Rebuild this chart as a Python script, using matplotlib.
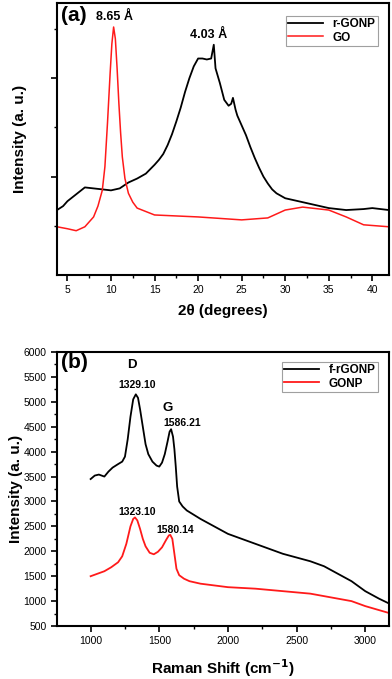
import numpy as np
import matplotlib
matplotlib.use("Agg")
import matplotlib.pyplot as plt
from matplotlib.ticker import MultipleLocator, FixedLocator

plt.rcParams['font.family'] = ['Liberation Sans', 'DejaVu Sans']

# (a) XRD, arbitrary intensity units
xrd_2theta_r = [3.8, 4.5, 5.0, 6.0, 7.0, 8.0, 9.0, 10.0, 11.0, 12.0, 13.0, 14.0, 15.0,
                15.5, 16.0, 16.5, 17.0, 17.5, 18.0, 18.5, 19.0, 19.5, 20.0, 20.5, 21.0,
                21.5, 21.8, 22.0, 22.5, 23.0, 23.5, 23.8, 24.0, 24.3, 24.5, 25.0, 25.5,
                26.0, 26.5, 27.0, 27.5, 28.0, 28.5, 29.0, 30.0, 31.0, 32.0, 33.0, 35.0,
                37.0, 39.0, 40.0, 41.9]
xrd_r_gonp = [0.66, 0.70, 0.75, 0.82, 0.89, 0.88, 0.87, 0.86, 0.88, 0.94, 0.98, 1.03, 1.12,
              1.17, 1.23, 1.32, 1.43, 1.56, 1.70, 1.86, 2.00, 2.12, 2.20, 2.20, 2.19,
              2.20, 2.34, 2.10, 1.95, 1.78, 1.72, 1.74, 1.80, 1.68, 1.62, 1.52, 1.42,
              1.30, 1.19, 1.09, 1.00, 0.93, 0.87, 0.83, 0.78, 0.76, 0.74, 0.72, 0.68,
              0.66, 0.67, 0.68, 0.66]
xrd_2theta_go = [3.8, 5.0, 6.0, 7.0, 8.0, 8.5, 9.0, 9.3, 9.6, 9.9, 10.1, 10.3, 10.5,
                 10.7, 10.9, 11.1, 11.3, 11.6, 12.0, 12.5, 13.0, 15.0, 20.0, 25.0,
                 28.0, 30.0, 32.0, 35.0, 37.0, 39.0, 41.9]
xrd_go = [0.49, 0.47, 0.45, 0.49, 0.59, 0.70, 0.86, 1.10, 1.55, 2.05, 2.35, 2.52, 2.40,
          2.10, 1.75, 1.45, 1.20, 0.98, 0.83, 0.74, 0.68, 0.61, 0.59, 0.56,
          0.58, 0.66, 0.69, 0.66, 0.59, 0.51, 0.49]

# (b) Raman
raman_x_f = [1000, 1030, 1060, 1100, 1130, 1160, 1200, 1230, 1250, 1270, 1290, 1310, 1329,
             1345, 1360, 1380, 1400, 1420, 1450, 1480, 1500, 1520, 1540, 1560, 1575,
             1586, 1600, 1610, 1620, 1630, 1645, 1670, 1700, 1800, 1900, 2000, 2200,
             2400, 2600, 2700, 2800, 2900, 3000, 3100, 3175]
raman_f_rgonp = [3450, 3520, 3540, 3500, 3600, 3680, 3750, 3800, 3900, 4250, 4700, 5050, 5150,
                 5080, 4850, 4500, 4150, 3950, 3800, 3720, 3700, 3780, 3950, 4200, 4400,
                 4450, 4300, 4050, 3700, 3300, 3000, 2900, 2820, 2650, 2500, 2350, 2150,
                 1950, 1800, 1700, 1550, 1400, 1200, 1050, 950]
raman_x_g = [1000, 1050, 1100, 1150, 1200, 1230, 1260, 1290, 1310, 1323, 1340, 1360, 1380,
             1400, 1430, 1460, 1490, 1520, 1550, 1570, 1580, 1595, 1610, 1625, 1645,
             1680, 1720, 1800, 2000, 2200, 2400, 2600, 2700, 2800, 2900, 3000, 3100, 3175]
raman_gonp = [1500, 1550, 1600, 1680, 1780, 1900, 2150, 2500, 2650, 2680, 2620, 2450, 2250,
              2100, 1970, 1940, 1990, 2080, 2230, 2320, 2330, 2250, 1950, 1650, 1520,
              1450, 1400, 1350, 1280, 1250, 1200, 1150, 1100, 1050, 1000, 900, 820, 760]

fig = plt.figure(figsize=(3.92, 6.79), dpi=100)
ax1 = fig.add_axes([0.1454, 0.595, 0.8466, 0.4])
ax2 = fig.add_axes([0.1454, 0.078, 0.8466, 0.4036])

for ax in (ax1, ax2):
    for s in ax.spines.values():
        s.set_linewidth(1.5)
    ax.tick_params(which='major', direction='out', length=4, width=1.2, labelsize=7.5)
    ax.tick_params(which='minor', direction='out', length=2.5, width=1.0)

# panel (a)
ax1.plot(xrd_2theta_r, xrd_r_gonp, color='black', linewidth=1.3, label='r-GONP')
ax1.plot(xrd_2theta_go, xrd_go, color='#ff1a1a', linewidth=1.1, label='GO')
ax1.set_xlim(3.8, 41.9)
ax1.set_ylim(0, 2.76)
ax1.xaxis.set_major_locator(MultipleLocator(5))
ax1.xaxis.set_minor_locator(MultipleLocator(2.5))
ax1.yaxis.set_major_locator(FixedLocator([1, 2]))
ax1.yaxis.set_minor_locator(FixedLocator([0.5, 1.5, 2.5]))
ax1.set_yticklabels([])
ax1.set_xlabel('2θ (degrees)', fontsize=11, weight='bold', labelpad=6)
ax1.set_ylabel('Intensity (a. u.)', fontsize=11, weight='bold', labelpad=14)
ax1.text(0.012, 0.99, '(a)', transform=ax1.transAxes, fontsize=15, weight='bold',
         ha='left', va='top')
ax1.text(10.4, 2.62, '8.65 Å', fontsize=9, weight='bold', ha='center', va='center')
ax1.text(21.2, 2.44, '4.03 Å', fontsize=9, weight='bold', ha='center', va='center')
leg1 = ax1.legend(loc='upper right', frameon=True, fancybox=False,
                  edgecolor='#888888', handlelength=3, borderpad=0.2, labelspacing=0.1,
                  bbox_to_anchor=(0.985, 0.975), prop={'weight': 'bold', 'size': 8.5})
leg1.get_frame().set_linewidth(0.8)

# panel (b)
ax2.plot(raman_x_f, raman_f_rgonp, color='black', linewidth=1.3, label='f-rGONP')
ax2.plot(raman_x_g, raman_gonp, color='#ff1a1a', linewidth=1.3, label='GONP')
ax2.set_xlim(755, 3172)
ax2.set_ylim(500, 6000)
ax2.xaxis.set_major_locator(MultipleLocator(500))
ax2.xaxis.set_minor_locator(MultipleLocator(250))
ax2.yaxis.set_major_locator(MultipleLocator(500))
ax2.yaxis.set_minor_locator(MultipleLocator(250))
ax2.set_xticks([1000, 1500, 2000, 2500, 3000])
ax2.set_xlabel('Raman Shift (cm$^{\\mathbf{-1}}$)', fontsize=11, weight='bold', labelpad=8)
ax2.set_ylabel('Intensity (a. u.)', fontsize=11, weight='bold', labelpad=0)
ax2.text(0.012, 0.995, '(b)', transform=ax2.transAxes, fontsize=15, weight='bold',
         ha='left', va='top')
ax2.text(1300, 5740, 'D', fontsize=9.5, weight='bold', ha='center', va='center')
ax2.text(1337, 5337, '1329.10', fontsize=7.5, weight='bold', ha='center', va='center')
ax2.text(1562, 4876, 'G', fontsize=9.5, weight='bold', ha='center', va='center')
ax2.text(1664, 4574, '1586.21', fontsize=7.5, weight='bold', ha='center', va='center')
ax2.text(1337, 2787, '1323.10', fontsize=7.5, weight='bold', ha='center', va='center')
ax2.text(1613, 2426, '1580.14', fontsize=7.5, weight='bold', ha='center', va='center')
leg2 = ax2.legend(loc='upper right', frameon=True, fancybox=False,
                  edgecolor='#888888', handlelength=3, borderpad=0.2, labelspacing=0.1,
                  bbox_to_anchor=(0.985, 0.985), prop={'weight': 'bold', 'size': 8.5})
leg2.get_frame().set_linewidth(0.8)

fig.savefig('out.png', dpi=100)
